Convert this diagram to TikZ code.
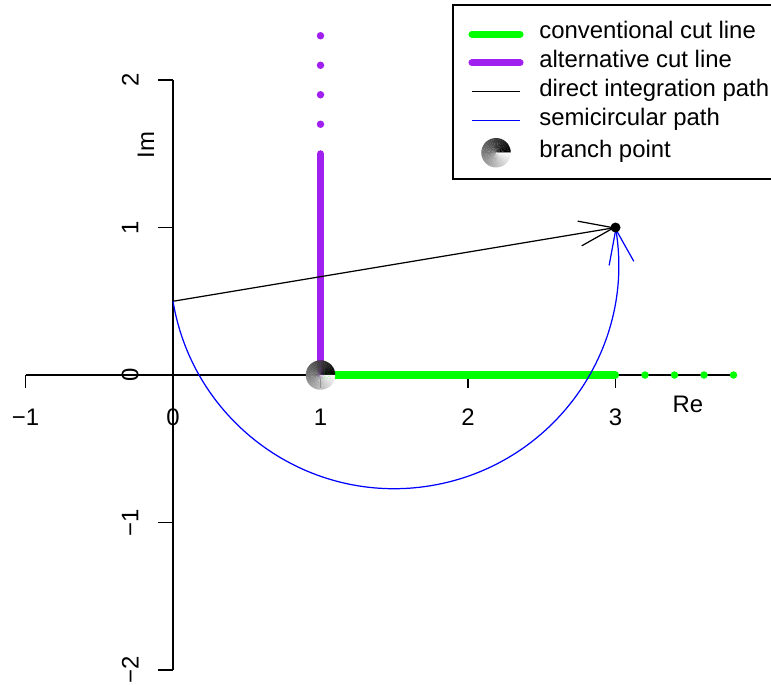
\documentclass[tikz,border=0pt]{standalone}
\usepackage{fontspec}
\setmainfont{Liberation Sans}
\usetikzlibrary{arrows.meta, calc, positioning}
\definecolor{gruen}{HTML}{00FF00}
\definecolor{lila}{HTML}{A020F0}
\definecolor{blau}{HTML}{0000FF}

% Verzweigungspunkt als grau abgestufte Scheibe
\newcommand{\zweigscheibe}[2]{%
  \foreach \w in {0,10,...,350}{
    \pgfmathsetmacro{\g}{100-\w/3.6}
    \fill[black!\g!white] (#1) -- ++(\w:#2)
      arc[start angle=\w, end angle=\w+10.6, radius=#2] -- cycle;
  }}

\begin{document}
\begin{tikzpicture}[x=2.95cm, y=2.95cm,
        achse/.style={line width=0.7pt},
        schnitt/.style={line width=4pt, line cap=round},
        pfeil/.style={line width=0.7pt,
                     -{Straight Barb[length=0.69cm, width=0.5cm]}},
        punkt/.style={fill, circle, inner sep=0pt, minimum size=0.15cm},
        lbl/.style={font=\fontsize{13.6}{16}\selectfont, inner sep=0pt},
        leg/.style={lbl, anchor=mid west}
      ]
      \useasboundingbox (-1.1729,-2.0949) rectangle (4.0542,2.5424);

      % ── Achsen ──
      \draw[achse] (-1,0) -- (3.8,0);
      \draw[achse] (0,-2) -- (0,2);
      \foreach \x/\t in {-1/−1, 0/0, 1/1, 2/2, 3/3} {
        \draw[achse] (\x,0) -- ++(0,-0.09);
        \node[lbl] (xt\x) at (\x,-0.285) {\t};
      }
      \foreach \y/\t in {-2/−2, -1/−1, 0/0, 1/1, 2/2} {
        \draw[achse] (0,\y) -- ++(-0.1,0);
        \node[lbl, rotate=90] (yt\y) at (-0.29,\y) {\t};
      }
      \node[lbl] (re) at (3.49,-0.2) {Re};
      \node[lbl, rotate=90] (im) at (-0.183,1.56) {Im};

      % ── Punkte ──
      \coordinate (bp)  at (1,0);
      \coordinate (src) at (0,0.5);
      \coordinate (dst) at (3,1);

      % ── Schnittlinien ──
      \draw[schnitt, gruen] (bp) -- (3,0);
      \draw[schnitt, lila]  (bp) -- (1,1.5);
      \foreach \s in {3.2,3.4,3.6,3.8}
        \node[punkt, gruen] (g\s) at (\s,0) {};
      \foreach \s in {1.7,1.9,2.1,2.3}
        \node[punkt, lila] (l\s) at (1,\s) {};

      % ── Integrationswege ──
      \draw[pfeil] (src) -- (dst);
      \draw[pfeil, blau] (src) arc[start angle=189.46, end angle=369.46, radius=1.5207];
      \node[punkt, minimum size=0.2cm] (ziel) at (dst) {};

      \zweigscheibe{bp}{0.1}

      % ── Legende ──
      \draw[achse] (1.898,1.329) rectangle (4.2,2.508);
      \draw[schnitt, gruen] (2.027,2.31) -- (2.353,2.31);
      \draw[schnitt, lila]  (2.027,2.117) -- (2.353,2.117);
      \draw[achse]          (2.027,1.921) -- (2.353,1.921);
      \draw[achse, blau]    (2.027,1.724) -- (2.353,1.724);
      \coordinate (lbp) at (2.19,1.507);
      \zweigscheibe{lbp}{0.1}
      \node[leg] (l1) at (2.481,2.31)  {conventional cut line};
      \node[leg] (l2) at (2.481,2.117) {alternative cut line};
      \node[leg] (l3) at (2.481,1.921) {direct integration path};
      \node[leg] (l4) at (2.481,1.724) {semicircular path};
      \node[leg] (l5) at (2.481,1.507) {branch point};
    \end{tikzpicture}
\end{document}
